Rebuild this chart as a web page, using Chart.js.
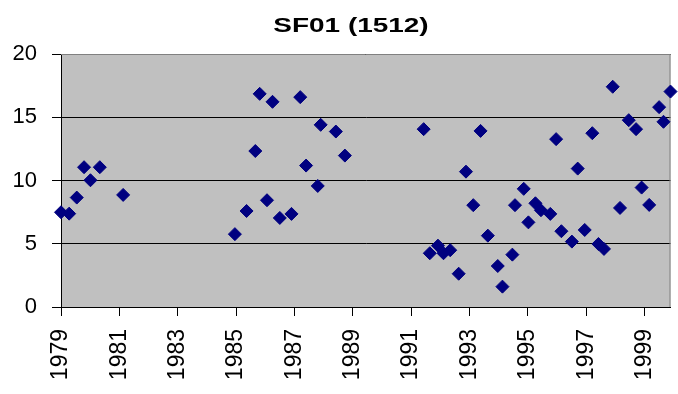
<!DOCTYPE html>
<html>
<head>
<meta charset="utf-8">
<script src="https://cdn.jsdelivr.net/npm/chart.js@4/dist/chart.umd.min.js"></script>
<style>
  html, body { margin: 0; padding: 0; background: #fff; }
  #wrap { width: 678px; height: 394px; }
</style>
</head>
<body>
<div id="wrap"><canvas id="c" width="678" height="394"></canvas></div>
<script>
const chartTitle = "SF01 (1512)";
const years = [
  1979.00, 1979.28, 1979.54, 1979.79, 1980.01, 1980.33, 1981.13,
  1984.96, 1985.36, 1985.66, 1985.81, 1986.06, 1986.25, 1986.50, 1986.90,
  1987.20, 1987.40, 1987.80, 1987.90, 1988.42, 1988.73,
  1991.43, 1991.64, 1991.92, 1992.11, 1992.34, 1992.63, 1992.88, 1993.13,
  1993.38, 1993.63, 1993.97, 1994.13, 1994.47, 1994.56, 1994.86, 1995.02,
  1995.26, 1995.45, 1995.77, 1995.97, 1996.15, 1996.51, 1996.71, 1996.95,
  1997.21, 1997.42, 1997.61, 1997.91, 1998.16, 1998.46, 1998.71, 1998.90,
  1999.16, 1999.50, 1999.65, 1999.89
];
const values = [
  7.49, 7.38, 8.65, 11.05, 10.02, 11.05, 8.86,
  5.76, 7.59, 12.33, 16.85, 8.44, 16.22, 7.04, 7.36,
  16.59, 11.18, 9.57, 14.40, 13.87, 11.97,
  14.06, 4.25, 4.85, 4.25, 4.49, 2.63, 10.70, 8.05,
  13.92, 5.64, 3.24, 1.61, 4.14, 8.05, 9.34, 6.69,
  8.20, 7.65, 7.36, 13.27, 5.99, 5.17, 10.94, 6.09,
  13.74, 4.98, 4.59, 17.41, 7.83, 14.77, 14.06, 9.44,
  8.07, 15.80, 14.64, 17.03
];
const xTickLabels = [1979, 1981, 1983, 1985, 1987, 1989, 1991, 1993, 1995, 1997, 1999];
const yTickLabels = [0, 5, 10, 15, 20];

const points = years.map((y, i) => ({ x: y, y: values[i] }));
const FONT = "'Liberation Sans', Arial, sans-serif";

const plotBg = {
  id: 'plotBg',
  beforeDraw(chart) {
    const a = chart.chartArea, ctx = chart.ctx;
    ctx.save();
    ctx.fillStyle = '#C0C0C0';
    ctx.fillRect(a.left, a.top, a.right - a.left, a.bottom - a.top);
    ctx.restore();
  },
  beforeDatasetsDraw(chart) {
    const a = chart.chartArea, ctx = chart.ctx;
    ctx.save();
    ctx.strokeStyle = '#808080';
    ctx.lineWidth = 1;
    ctx.beginPath();
    ctx.moveTo(a.left, a.top + 0.5);
    ctx.lineTo(a.right - 0.5, a.top + 0.5);
    ctx.lineTo(a.right - 0.5, a.bottom);
    ctx.stroke();
    ctx.restore();
  },
  afterDraw(chart) {
    const ctx = chart.ctx;
    ctx.save();
    ctx.fillStyle = '#000';
    ctx.font = "bold 21px " + FONT;
    ctx.textAlign = 'center';
    ctx.textBaseline = 'alphabetic';
    ctx.translate(351, 32);
    ctx.scale(1.33, 1);
    ctx.fillText(chartTitle, 0, 0);
    ctx.restore();
  }
};

new Chart(document.getElementById('c'), {
  type: 'scatter',
  data: {
    datasets: [{
      data: points,
      pointStyle: 'rectRot',
      pointRadius: 6.5,
      pointHoverRadius: 6.5,
      backgroundColor: '#000080',
      borderColor: '#000080',
      borderWidth: 1,
      clip: false
    }]
  },
  options: {
    responsive: false,
    animation: false,
    layout: { padding: { left: 0, right: 5, top: 54, bottom: 0 } },
    plugins: {
      legend: { display: false },
      tooltip: { enabled: false },
      title: { display: false }
    },
    scales: {
      x: {
        type: 'linear',
        min: xTickLabels[0],
        max: 1999.89,
        afterBuildTicks(scale) { scale.ticks = xTickLabels.map(v => ({ value: v })); },
        afterFit(scale) { scale.height = 87; scale.paddingLeft = 0; scale.paddingRight = 0; },
        grid: { drawOnChartArea: false, drawTicks: true, tickLength: 9, tickColor: '#000' },
        border: { display: true, color: '#000', width: 1 },
        ticks: {
          autoSkip: false,
          maxRotation: 90, minRotation: 90,
          padding: 13,
          color: '#000',
          font: { family: FONT, size: 23 },
          callback: v => String(v)
        }
      },
      y: {
        min: 0, max: 20,
        afterBuildTicks(scale) { scale.ticks = yTickLabels.map(v => ({ value: v })); },
        afterFit(scale) { scale.width = 61; scale.paddingTop = 0; scale.paddingBottom = 0; },
        grid: { color: '#000', lineWidth: 1, drawTicks: true, tickLength: 9, tickColor: '#000' },
        border: { display: true, color: '#000', width: 1 },
        ticks: {
          padding: 15,
          color: '#000',
          font: { family: FONT, size: 22 },
          callback: v => String(v)
        }
      }
    }
  },
  plugins: [plotBg]
});
</script>
</body>
</html>
